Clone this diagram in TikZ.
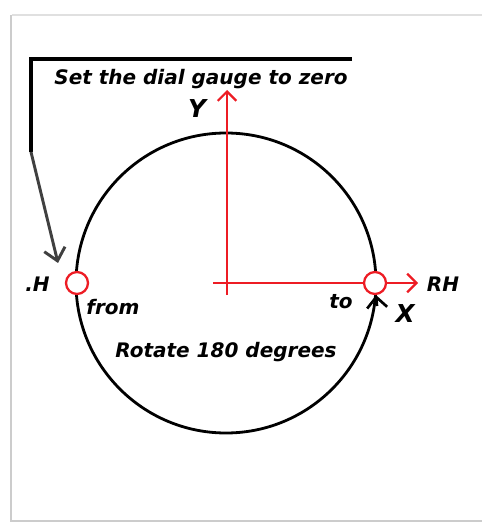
\documentclass[tikz,border=0pt]{standalone}
\usepackage{fontspec}
\setmainfont{DejaVu Sans}
\usetikzlibrary{arrows.meta}
\definecolor{axred}{RGB}{237,28,36}
\definecolor{darkarrow}{RGB}{64,64,64}
\tikzset{
  lbl/.style={font=\bfseries\itshape\fontsize{15}{17}\selectfont, inner sep=0pt},
  biglbl/.style={font=\bfseries\itshape\fontsize{18.5}{20}\selectfont, inner sep=0pt},
  axis/.style={axred, line width=1.6pt, -{Straight Barb[length=7pt,width=14pt,line width=1.6pt]}},
  marker/.style={circle, draw=axred, fill=white, line width=1.7pt, minimum size=16.5pt, inner sep=0pt},
  frame/.style={draw=black!20, line width=2pt},
}
\begin{document}
\begin{tikzpicture}[x=0.75pt,y=-0.75pt]
\useasboundingbox (0,0) rectangle (482,523);
% panel
\path[draw=black!12, line width=1pt] (12,15) -- (482,15);
\path[frame] (11,15) -- (11,521) -- (482,521);
% main circle
\coordinate (c) at (226,283);
\draw[line width=2.1pt] (c) circle[radius=150];
% axes
\coordinate (ytip) at (227,90);
\coordinate (xtip) at (418,283);
\coordinate (ybot) at (227,295);
\coordinate (xleft) at (213,283);
\draw[axis] (ybot) -- (ytip);
\draw[axis] (xleft) -- (xtip);
% markers
\node[marker] (lm) at (77,283) {};
\node[marker] (rm) at (375,283) {};
% top bracket with arrow
\coordinate (b1) at (352,59);
\coordinate (b2) at (31,59);
\coordinate (b3) at (31,152);
\coordinate (la) at (58,263);
\draw[line width=2.4pt] (b1) -- (b2) -- (b3);
\draw[darkarrow, line width=2.2pt, -{Straight Barb[length=9pt,width=16pt,line width=2.2pt]}] (b3) -- (la);
% arrow at right marker
\coordinate (ra) at (377,306);
\draw[line width=2pt, -{Straight Barb[length=8pt,width=15pt,line width=2pt]}] (ra) -- (rm.-85);
% texts
\node[lbl] (title) at (201,79) {Set the dial gauge to zero};
\node[biglbl] (y) at (197,109) {Y};
\node[lbl, anchor=east] (lh) at (50,284) {.H};
\node[lbl] (from) at (113,307) {from};
\node[lbl] (to) at (341,302) {to};
\node[lbl] (rh) at (443,284) {RH};
\node[biglbl] (x) at (405,314) {X};
\node[lbl] (rot) at (226,352) {Rotate 180 degrees};
\end{tikzpicture}
\end{document}
